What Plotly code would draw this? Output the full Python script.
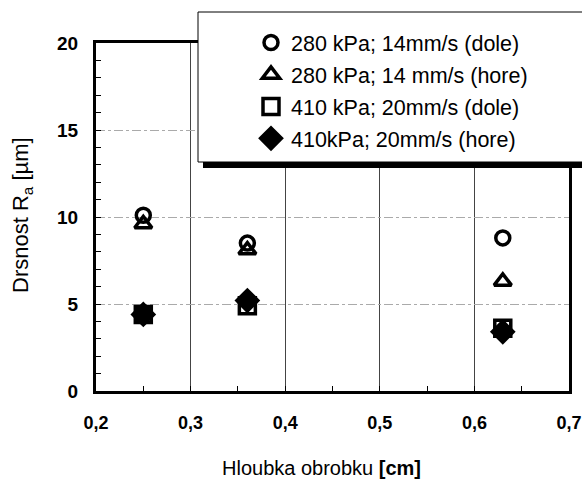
import plotly.graph_objects as go

depth = [0.25, 0.36, 0.63]
ra_280_dole = [10.1, 8.5, 8.8]
ra_280_hore = [9.6, 8.1, 6.3]
ra_410_dole = [4.4, 4.9, 3.6]
ra_410_hore = [4.4, 5.2, 3.4]
x_ticks = [0.2, 0.3, 0.4, 0.5, 0.6, 0.7]
x_labels = ["0,2", "0,3", "0,4", "0,5", "0,6", "0,7"]

names = ["280 kPa; 14mm/s (dole)", "280 kPa; 14 mm/s (hore)",
         "410 kPa; 20mm/s (dole)", "410kPa; 20mm/s (hore)"]
symbols = ["circle-open", "triangle-up-open", "square-open", "diamond"]
series = [ra_280_dole, ra_280_hore, ra_410_dole, ra_410_hore]
sizes = [14, 15, 16, 16]

W, H = 582, 486
L, R, T, B = 96, 13, 43, 95
pw, ph = W - L - R, H - T - B

def px_x(p):
    return (p - L) / pw

def px_y(p):
    return (H - B - p) / ph

fig = go.Figure()
for i, (nm, sym, ys, sz) in enumerate(zip(names, symbols, series, sizes)):
    fig.add_trace(go.Scatter(
        x=depth, y=ys, mode="markers", name=nm, legendgroup=f"g{i}",
        marker=dict(symbol=sym, size=sz, color="black",
                    line=dict(color="black", width=3.5)),
    ))

arial = "Liberation Sans, Arial, sans-serif"

shapes = [
    dict(type="rect", xref="paper", yref="paper",
         x0=px_x(203), x1=px_x(620), y0=px_y(168), y1=px_y(160),
         fillcolor="black", line=dict(width=0), layer="above"),
    dict(type="rect", xref="paper", yref="paper",
         x0=px_x(198), x1=px_x(620), y0=px_y(162), y1=px_y(12),
         fillcolor="white", line=dict(color="black", width=1), layer="above"),
]

fig.update_layout(
    width=W, height=H,
    margin=dict(l=L, r=R, t=T, b=B, autoexpand=False),
    paper_bgcolor="white", plot_bgcolor="white",
    font=dict(family=arial, color="black"),
    showlegend=True,
    legend=dict(x=px_x(251), y=px_y(22), xanchor="left", yanchor="top",
                bgcolor="rgba(0,0,0,0)", borderwidth=0,
                font=dict(size=21.5, family=arial, color="black"),
                tracegroupgap=1, itemsizing="trace"),
    shapes=shapes,
    xaxis=dict(range=[0.2, 0.7], tickvals=x_ticks, ticktext=x_labels,
               showline=True, linecolor="black", linewidth=3, mirror=True,
               showgrid=True, gridcolor="#444", gridwidth=1,
               zeroline=False, ticks="inside", ticklen=5, tickcolor="black",
               tickfont=dict(size=18, family=arial, color="black", weight="bold"),
               ticklabelstandoff=13, ticklabeloverflow="allow",
               minor=dict(dtick=0.05, ticks="inside", ticklen=5,
                          tickcolor="black", showgrid=False)),
    yaxis=dict(range=[0, 20], dtick=5,
               showline=True, linecolor="black", linewidth=3, mirror=True,
               showgrid=True, gridcolor="#aaa", gridwidth=1, griddash="dashdot",
               zeroline=False, ticks="inside", ticklen=5, tickcolor="black",
               tickfont=dict(size=19, family=arial, color="black", weight="bold"),
               ticklabelstandoff=11,
               minor=dict(dtick=1, ticks="inside", ticklen=5,
                          tickcolor="black", showgrid=False)),
    annotations=[
        dict(text="Hloubka obrobku <b>[cm]</b>", xref="paper", yref="paper",
             x=px_x(321), y=px_y(468), xanchor="center", yanchor="middle",
             showarrow=False, font=dict(size=20, family=arial, color="black")),
        dict(text="Drsnost R<sub>a</sub> [µm]", xref="paper", yref="paper",
             x=px_x(22), y=px_y(215), xanchor="center", yanchor="middle",
             textangle=-90, showarrow=False,
             font=dict(size=22, family=arial, color="black")),
    ],
)

fig.write_html("out.html")
